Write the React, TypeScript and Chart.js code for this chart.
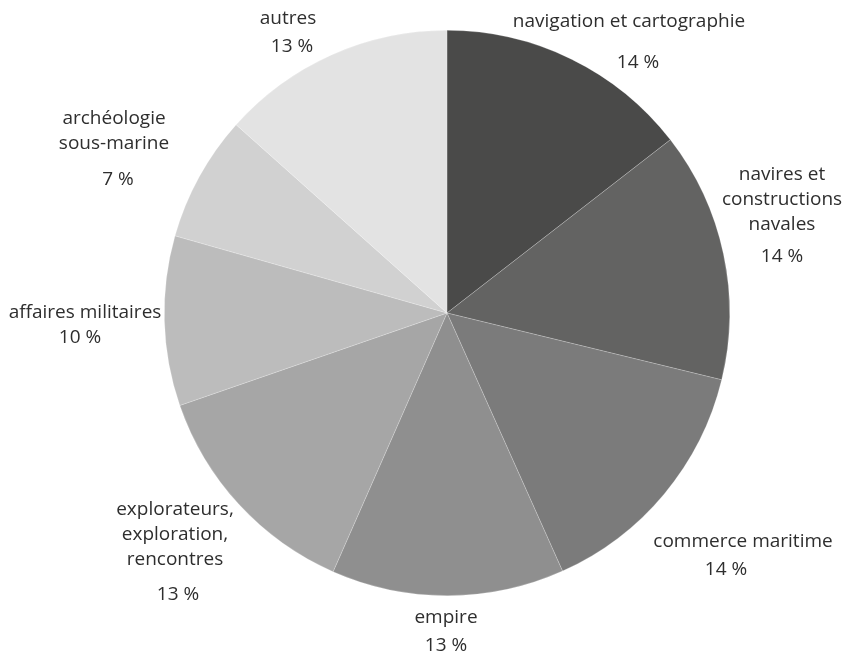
import React, { useEffect, useRef } from "react";
import { Chart, registerables } from "chart.js";

Chart.register(...registerables);

// ---- data ----
const categories: string[][] = [
  ["navigation et cartographie"],
  ["navires et", "constructions", "navales"],
  ["commerce maritime"],
  ["empire"],
  ["explorateurs,", "exploration,", "rencontres"],
  ["affaires militaires"],
  ["archéologie", "sous-marine"],
  ["autres"],
];
const shares: number[] = [14.5, 14.3, 14.5, 13.3, 13.1, 9.7, 7.2, 13.4];
const percentLabels: string[] = ["14 %", "14 %", "14 %", "13 %", "13 %", "10 %", "7 %", "13 %"];
const sliceColors: string[] = [
  "#4a4a49",
  "#636362",
  "#7b7b7b",
  "#8f8f8f",
  "#a6a6a6",
  "#bcbcbc",
  "#d1d1d1",
  "#e3e3e3",
];

// ---- label layout (offsets from pie centre, px) ----
// [nameX, nameY(first line), lineHeight, pctX, pctY]
const labelLayout: number[][] = [
  [182, -291, 25, 191, -250],
  [335, -138, 25, 335, -56],
  [296, 229, 25, 279, 257],
  [-1, 305, 25, -1, 333],
  [-272, 197, 25, -269, 282],
  [-362, 0, 25, -367, 25],
  [-333, -194, 25, -329, -133],
  [-159, -294, 25, -155, -266],
];

const FONT = "19px 'Open Sans', 'Noto Sans', sans-serif";

const labelPlugin = {
  id: "outerLabels",
  afterDraw(chart: any) {
    const meta = chart.getDatasetMeta(0);
    const ctx = chart.ctx;
    ctx.save();
    ctx.font = FONT;
    ctx.fillStyle = "#2e2e2e";
    ctx.textAlign = "center";
    ctx.textBaseline = "middle";
    meta.data.forEach((arc: any, i: number) => {
      const cx = arc.x;
      const cy = arc.y;
      const [nx, ny, lh, px, py] = labelLayout[i];
      categories[i].forEach((line, j) => {
        ctx.fillText(line, cx + nx, cy + ny + j * lh);
      });
      ctx.fillText(percentLabels[i], cx + px, cy + py);
    });
    ctx.restore();
  },
};

export default function App() {
  const ref = useRef<HTMLCanvasElement | null>(null);
  useEffect(() => {
    if (!ref.current) return;
    const chart = new Chart(ref.current, {
      type: "pie",
      data: {
        labels: categories.map((c) => c.join(" ")),
        datasets: [
          {
            data: shares,
            backgroundColor: sliceColors,
            borderColor: "rgba(255,255,255,0.35)",
            borderWidth: 0.6,
          },
        ],
      },
      options: {
        responsive: false,
        animation: false,
        layout: { padding: { top: 30, bottom: 60, left: 164, right: 115 } },
        plugins: {
          legend: { display: false },
          tooltip: { enabled: false },
        },
      },
      plugins: [labelPlugin],
    });
    return () => chart.destroy();
  }, []);
  return (
    <div style={{ position: "absolute", left: 0, top: 0, width: 845, height: 656, background: "#fff" }}>
      <canvas ref={ref} width={845} height={656} style={{ display: "block" }} />
    </div>
  );
}
